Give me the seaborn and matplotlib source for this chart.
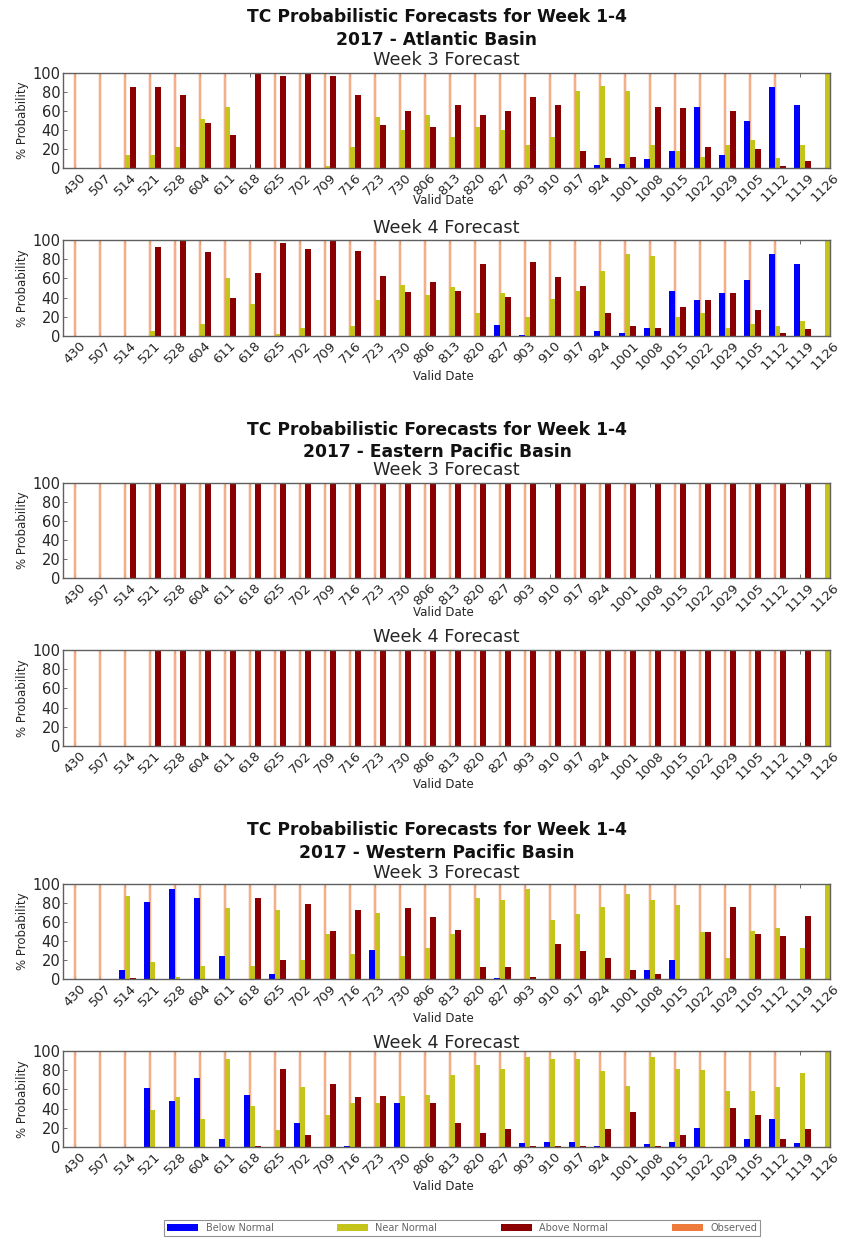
import numpy as np
import pandas as pd
import matplotlib
matplotlib.use("Agg")
import matplotlib.pyplot as plt
from matplotlib.patches import Patch
import seaborn as sns

# -----------------------------
# data
# -----------------------------
dates = ["430", "507", "514", "521", "528", "604", "611", "618", "625", "702",
         "709", "716", "723", "730", "806", "813", "820", "827", "903", "910",
         "917", "924", "1001", "1008", "1015", "1022", "1029", "1105", "1112",
         "1119", "1126"]

categories = ["Below Normal", "Near Normal", "Above Normal", "Observed"]

# Atlantic - week 3
atl_w3_below = [0, 0, 0, 0, 0, 0, 0, 0, 0, 0, 0, 0, 0, 0, 0, 0, 0, 0, 0, 0,
                0, 3, 4, 10, 18, 64, 14, 50, 85, 66, 0]
atl_w3_near = [0, 0, 14, 14, 22, 52, 64, 0, 0, 0, 2, 22, 54, 40, 56, 33, 43, 40, 24, 33,
               81, 86, 81, 24, 18, 12, 24, 29, 11, 24, 100]
atl_w3_above = [0, 0, 85, 85, 77, 47, 35, 100, 97, 100, 97, 77, 45, 60, 43, 66, 56, 60, 75, 66,
                18, 11, 12, 64, 63, 22, 60, 20, 2, 7, 0]
atl_w3_obs = [100, 100, 100, 100, 100, 100, 100, 0, 100, 100, 100, 100, 100, 100, 100, 100,
              100, 100, 100, 100, 100, 100, 100, 100, 100, 100, 100, 100, 100, 0, 0]

# Atlantic - week 4
atl_w4_below = [0, 0, 0, 0, 0, 0, 0, 0, 0, 0, 0, 0, 0, 0, 0, 0, 0, 11, 1, 0,
                0, 5, 3, 8, 47, 37, 45, 58, 85, 75, 0]
atl_w4_near = [0, 0, 0, 5, 0, 12, 60, 33, 2, 8, 0, 10, 37, 53, 43, 51, 24, 45, 20, 39,
               47, 68, 85, 83, 20, 24, 8, 13, 10, 16, 100]
atl_w4_above = [0, 0, 0, 93, 100, 87, 40, 66, 97, 91, 100, 89, 62, 46, 56, 47, 75, 41, 77, 61,
                52, 24, 10, 8, 30, 37, 45, 27, 3, 7, 0]
atl_w4_obs = [100, 100, 100, 100, 100, 100, 100, 100, 100, 100, 100, 100, 100, 100, 100, 100,
              100, 100, 100, 100, 100, 100, 100, 100, 100, 100, 100, 100, 100, 0, 0]

# Eastern Pacific - week 3
ep_w3_below = [0] * 31
ep_w3_near = [0, 0, 0, 0, 0, 0, 0, 0, 0, 0, 0, 0, 0, 0, 0, 0, 0, 0, 0, 0,
              0, 0, 0, 0, 0, 0, 0, 0, 0, 0, 100]
ep_w3_above = [0, 0, 100, 100, 100, 100, 100, 100, 100, 100, 100, 100, 100, 100, 100, 100,
               100, 100, 100, 100, 100, 100, 100, 100, 100, 100, 100, 100, 100, 100, 0]
ep_w3_obs = [100, 100, 100, 100, 100, 100, 100, 100, 100, 100, 100, 100, 100, 100, 100, 100,
             100, 100, 100, 0, 100, 100, 100, 0, 100, 100, 100, 100, 100, 0, 0]

# Eastern Pacific - week 4
ep_w4_below = [0] * 31
ep_w4_near = [0, 0, 0, 0, 0, 0, 0, 0, 0, 0, 0, 0, 0, 0, 0, 0, 0, 0, 0, 0,
              0, 0, 0, 0, 0, 0, 0, 0, 0, 0, 100]
ep_w4_above = [0, 0, 0, 100, 100, 100, 100, 100, 100, 100, 100, 100, 100, 100, 100, 100,
               100, 100, 100, 100, 100, 100, 100, 100, 100, 100, 100, 100, 100, 100, 0]
ep_w4_obs = [100, 100, 100, 100, 100, 100, 100, 100, 100, 100, 100, 100, 100, 100, 100, 100,
             100, 100, 100, 100, 100, 100, 100, 100, 100, 100, 100, 100, 100, 0, 0]

# Western Pacific - week 3
wp_w3_below = [0, 0, 10, 81, 95, 85, 24, 0, 5, 0, 0, 0, 31, 0, 0, 0, 0, 1, 0, 0,
               0, 0, 0, 10, 20, 0, 0, 0, 0, 0, 0]
wp_w3_near = [0, 0, 87, 18, 2, 14, 75, 14, 73, 20, 47, 26, 69, 24, 33, 47, 85, 83, 95, 62,
              68, 76, 89, 83, 78, 49, 22, 51, 54, 33, 100]
wp_w3_above = [0, 0, 1, 0, 0, 0, 0, 85, 20, 79, 51, 73, 0, 75, 65, 52, 13, 13, 2, 37,
               30, 22, 10, 5, 0, 49, 76, 47, 45, 66, 0]
wp_w3_obs = [100, 100, 100, 100, 100, 100, 100, 100, 100, 100, 100, 100, 100, 100, 100, 100,
             100, 100, 100, 100, 100, 100, 100, 100, 100, 100, 100, 100, 100, 0, 0]

# Western Pacific - week 4
wp_w4_below = [0, 0, 0, 61, 48, 72, 8, 54, 0, 25, 0, 1, 0, 46, 0, 0, 0, 0, 4, 5,
               5, 1, 0, 3, 5, 20, 0, 8, 29, 4, 0]
wp_w4_near = [0, 0, 0, 39, 52, 29, 92, 43, 18, 62, 33, 46, 46, 53, 54, 75, 85, 81, 94, 92,
              92, 79, 64, 94, 81, 80, 58, 58, 63, 77, 100]
wp_w4_above = [0, 0, 0, 0, 0, 0, 0, 1, 81, 12, 66, 52, 53, 0, 46, 25, 15, 19, 1, 1,
               1, 19, 36, 1, 12, 0, 41, 33, 8, 19, 0]
wp_w4_obs = [100, 100, 100, 100, 100, 100, 100, 100, 100, 100, 100, 100, 100, 100, 100, 100,
             100, 100, 100, 100, 100, 100, 100, 100, 100, 100, 100, 100, 100, 0, 0]

# -----------------------------
# style
# -----------------------------
sns.set_theme(style="white")
plt.rcParams["font.family"] = ["DejaVu Sans"]

colors = {"Below Normal": "#0000ff", "Near Normal": "#c4c41a",
          "Above Normal": "#8b0000", "Observed": "#ee7a3c"}
obs_fill = "#f4b08a"
text_col = "#262626"

W, H = 848, 1241
fig = plt.figure(figsize=(W / 100, H / 100), dpi=100)
fig.patch.set_facecolor("white")

ax_left, ax_right = 63, 830
ax_xc = (ax_left + ax_right) / 2 / W


def fy(px):
    return 1 - px / H


def draw_panel(top, bottom, below, near, above, obs):
    ax = fig.add_axes([ax_left / W, fy(bottom), (ax_right - ax_left) / W, (bottom - top) / H])
    df = pd.DataFrame({
        "date": dates * 3,
        "cat": [categories[0]] * 31 + [categories[1]] * 31 + [categories[2]] * 31,
        "prob": below + near + above,
    })
    sns.barplot(data=df, x="date", y="prob", hue="cat", order=dates,
                hue_order=categories[:3], palette=colors, width=0.66,
                saturation=1, errorbar=None, legend=False, linewidth=0, ax=ax)
    ax.bar(np.arange(len(dates)) - 0.1, obs, width=0.07, color=obs_fill,
           edgecolor=colors["Observed"], linewidth=0.3, alpha=0.85, zorder=0.9)
    ax.set_xlim(-0.58, 30.11)
    ax.set_ylim(0, 100)
    ax.set_yticks(range(0, 101, 20))
    ax.set_xticks(np.arange(len(dates)) - 0.1)
    ax.set_xticklabels(dates, rotation=45, fontsize=9.5, color=text_col)
    ax.tick_params(axis="y", labelsize=10.5, labelcolor=text_col)
    ax.tick_params(direction="in", length=3, width=0.6, color="#555555",
                   top=True, right=True, bottom=True, left=True, pad=2)
    ax.set_xlabel("")
    ax.set_ylabel("% Probability", fontsize=8.5, color=text_col, labelpad=2)
    for s in ax.spines.values():
        s.set_color("#606060")
        s.set_linewidth(1.0)
    return ax


groups = [
    ("2017 - Atlantic Basin", 17, 40,
     (60, 73, 168, 200, atl_w3_below, atl_w3_near, atl_w3_above, atl_w3_obs),
     (228, 240, 336, 377, atl_w4_below, atl_w4_near, atl_w4_above, atl_w4_obs)),
    ("2017 - Eastern Pacific Basin", 430, 452,
     (470, 483, 578, 612, ep_w3_below, ep_w3_near, ep_w3_above, ep_w3_obs),
     (637, 650, 746, 784, ep_w4_below, ep_w4_near, ep_w4_above, ep_w4_obs)),
    ("2017 - Western Pacific Basin", 830, 853,
     (873, 884, 979, 1018, wp_w3_below, wp_w3_near, wp_w3_above, wp_w3_obs),
     (1043, 1051, 1147, 1186, wp_w4_below, wp_w4_near, wp_w4_above, wp_w4_obs)),
]

for basin, y1, y2, wk3, wk4 in groups:
    fig.text(437 / W, fy(y1), "TC Probabilistic Forecasts for Week 1-4",
             ha="center", va="center", fontsize=12.3, fontweight="bold", color="#111111")
    fig.text(437 / W, fy(y2), basin, ha="center", va="center",
             fontsize=12.3, fontweight="bold", color="#111111")
    for label, (ty, top, bottom, vy, b, n, a, o) in zip(["Week 3 Forecast", "Week 4 Forecast"], [wk3, wk4]):
        draw_panel(top, bottom, b, n, a, o)
        fig.text(ax_xc, fy(ty), label, ha="center", va="center", fontsize=12.8, color=text_col)
        fig.text(443 / W, fy(vy), "Valid Date", ha="center", va="center", fontsize=8.5, color=text_col)

# -----------------------------
# legend
# -----------------------------
handles = [Patch(facecolor=colors[c], edgecolor="none") for c in categories]
leg = fig.legend(handles, categories, loc="center", bbox_to_anchor=(462 / W, fy(1228)),
                 ncol=4, fontsize=7, handlelength=3.2, handleheight=0.8,
                 columnspacing=6.5, handletextpad=0.8, frameon=True, fancybox=False,
                 borderpad=0.3, labelcolor="#666666")
leg.get_frame().set_edgecolor("#777777")
leg.get_frame().set_linewidth(0.8)

fig.savefig("out.png", dpi=100, facecolor="white")
